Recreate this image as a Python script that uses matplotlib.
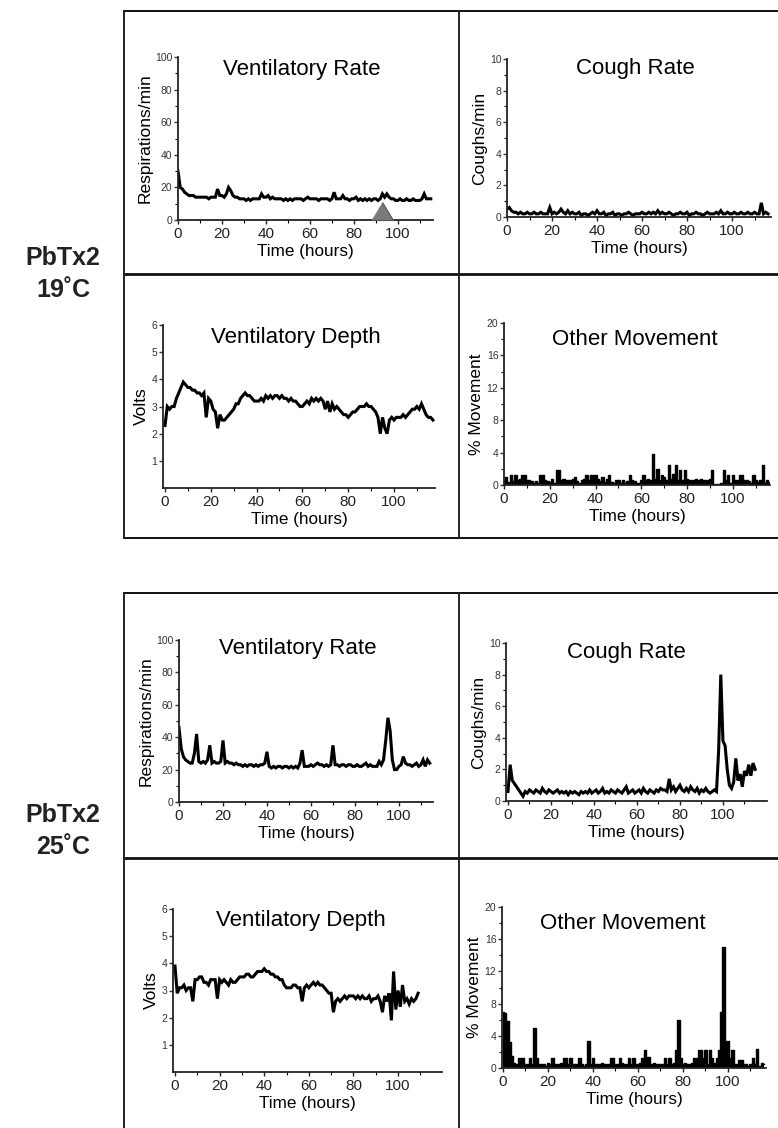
import numpy as np
import matplotlib
matplotlib.use('Agg')
from matplotlib import pyplot as plt
from matplotlib.lines import Line2D
from matplotlib.ticker import MultipleLocator, FixedLocator

plt.rcParams['font.family'] = ['Liberation Sans', 'DejaVu Sans']

W, H = 778, 1128

# ---- data (hourly samples) ----
VENT_RATE_19 = [30, 20, 19, 17, 16, 15, 15, 15, 14, 14,
                14, 14, 14, 14, 13, 14, 14, 14, 19, 15,
                15, 14, 16, 20, 18, 15, 14, 14, 13, 13,
                13, 12, 13, 12, 13, 13, 13, 13, 16, 14,
                14, 15, 13, 14, 13, 13, 13, 13, 12, 13,
                12, 13, 12, 13, 13, 13, 13, 12, 13, 14,
                13, 13, 13, 13, 12, 13, 13, 13, 13, 12,
                13, 17, 13, 13, 13, 15, 13, 13, 12, 13,
                13, 14, 12, 13, 12, 13, 12, 13, 12, 13,
                13, 12, 13, 16, 14, 16, 14, 13, 13, 12,
                12, 13, 12, 12, 13, 12, 12, 13, 12, 12,
                12, 13, 16, 13, 13, 13]
ARROW_HOUR_19 = 93

COUGH_19 = [0.5, 0.6, 0.4, 0.3, 0.3, 0.2, 0.3, 0.2, 0.2, 0.3,
            0.2, 0.2, 0.3, 0.2, 0.2, 0.3, 0.2, 0.2, 0.2, 0.6,
            0.2, 0.3, 0.2, 0.3, 0.5, 0.3, 0.2, 0.4, 0.2, 0.3,
            0.2, 0.2, 0.3, 0.1, 0.2, 0.2, 0.1, 0.2, 0.3, 0.2,
            0.4, 0.2, 0.2, 0.3, 0.1, 0.2, 0.2, 0.3, 0.1, 0.2,
            0.2, 0.1, 0.2, 0.2, 0.3, 0.2, 0.1, 0.2, 0.2, 0.2,
            0.3, 0.2, 0.2, 0.3, 0.2, 0.3, 0.2, 0.4, 0.2, 0.3,
            0.2, 0.2, 0.3, 0.2, 0.1, 0.2, 0.2, 0.3, 0.2, 0.2,
            0.3, 0.1, 0.2, 0.2, 0.3, 0.2, 0.2, 0.1, 0.2, 0.3,
            0.2, 0.2, 0.2, 0.3, 0.2, 0.4, 0.2, 0.2, 0.3, 0.2,
            0.2, 0.3, 0.2, 0.2, 0.3, 0.2, 0.2, 0.3, 0.2, 0.2,
            0.3, 0.2, 0.2, 0.9, 0.2, 0.3, 0.2]

DEPTH_19 = [2.3, 3.0, 2.9, 3.0, 3.0, 3.3, 3.5, 3.7, 3.9, 3.8,
            3.7, 3.7, 3.6, 3.6, 3.5, 3.5, 3.4, 3.5, 2.6, 3.3,
            3.2, 2.9, 2.8, 2.2, 2.7, 2.5, 2.5, 2.6, 2.7, 2.8,
            2.9, 3.1, 3.1, 3.3, 3.4, 3.5, 3.4, 3.4, 3.3, 3.2,
            3.2, 3.2, 3.3, 3.2, 3.4, 3.3, 3.4, 3.3, 3.4, 3.4,
            3.3, 3.4, 3.3, 3.3, 3.2, 3.3, 3.2, 3.2, 3.1, 3.0,
            3.0, 3.1, 3.2, 3.1, 3.3, 3.2, 3.3, 3.2, 3.3, 3.2,
            2.9, 3.2, 2.8, 3.1, 2.9, 3.0, 2.9, 2.8, 2.7, 2.7,
            2.6, 2.7, 2.8, 2.8, 2.9, 3.0, 3.0, 3.0, 3.1, 3.0,
            3.0, 2.9, 2.8, 2.6, 2.0, 2.6, 2.2, 2.0, 2.5, 2.6,
            2.5, 2.6, 2.6, 2.6, 2.7, 2.6, 2.7, 2.8, 2.9, 2.9,
            3.0, 2.9, 3.1, 2.9, 2.7, 2.6, 2.6, 2.5]

OTHER_19 = [0.6, 1.0, 0.4, 1.2, 0.5, 1.2, 0.6, 0.8, 1.2, 1.2,
            0.6, 0.6, 0.5, 0.3, 0.5, 0.2, 1.2, 1.2, 0.6, 0.5,
            0.4, 0.8, 0.3, 1.8, 1.8, 0.6, 0.7, 0.6, 0.6, 0.6,
            0.7, 1.0, 0.5, 0.3, 0.6, 0.8, 1.2, 0.6, 1.2, 1.2,
            1.2, 0.8, 0.5, 1.0, 0.4, 0.8, 1.2, 0.4, 0.2, 0.6,
            0.6, 0.3, 0.6, 0.3, 0.5, 1.2, 0.6, 0.5, 0.2, 0.3,
            0.6, 1.2, 0.6, 0.8, 0.6, 3.8, 0.8, 2.0, 0.6, 1.2,
            1.0, 0.6, 2.5, 0.8, 1.4, 2.5, 0.6, 1.8, 0.6, 1.8,
            0.7, 0.6, 0.6, 0.6, 0.7, 0.6, 0.7, 0.6, 0.6, 0.6,
            0.7, 1.9, 0.1, 0.1, 0.1, 0.2, 1.8, 0.6, 1.2, 0.2,
            1.2, 0.6, 0.6, 1.2, 1.2, 0.6, 0.6, 0.5, 0.3, 1.2,
            0.6, 0.4, 0.6, 2.5, 0.2, 0.6, 0.4]

VENT_RATE_25 = [46, 33, 28, 26, 25, 24, 24, 30, 42, 25,
                24, 25, 24, 26, 35, 24, 25, 24, 24, 25,
                38, 24, 25, 24, 24, 23, 24, 23, 23, 22,
                23, 22, 23, 23, 22, 23, 22, 23, 23, 24,
                31, 22, 21, 22, 21, 22, 22, 21, 22, 22,
                21, 22, 21, 22, 21, 24, 32, 22, 22, 22,
                23, 22, 23, 24, 23, 23, 22, 23, 22, 23,
                35, 23, 23, 22, 23, 23, 22, 23, 23, 22,
                22, 23, 22, 22, 23, 24, 22, 23, 22, 22,
                22, 25, 23, 26, 38, 52, 44, 26, 20, 20,
                22, 23, 28, 24, 23, 23, 22, 23, 24, 22,
                23, 26, 22, 26, 24]

COUGH_25 = [0.6, 2.3, 1.3, 1.1, 0.9, 0.7, 0.5, 0.3, 0.6, 0.5,
            0.7, 0.6, 0.5, 0.7, 0.6, 0.5, 0.8, 0.6, 0.5, 0.7,
            0.6, 0.5, 0.6, 0.7, 0.5, 0.6, 0.5, 0.6, 0.4, 0.6,
            0.5, 0.6, 0.5, 0.4, 0.6, 0.5, 0.6, 0.5, 0.7, 0.5,
            0.6, 0.7, 0.5, 0.6, 0.8, 0.5, 0.6, 0.5, 0.7, 0.6,
            0.5, 0.7, 0.6, 0.5, 0.7, 0.9, 0.5, 0.6, 0.7, 0.5,
            0.6, 0.7, 0.5, 0.8, 0.6, 0.5, 0.7, 0.6, 0.5, 0.7,
            0.6, 0.8, 0.7, 0.7, 0.6, 1.4, 0.7, 0.9, 0.6, 0.8,
            1.0, 0.7, 0.6, 0.8, 0.6, 0.9, 0.7, 0.6, 0.8, 0.5,
            0.7, 0.6, 0.8, 0.6, 0.5, 0.6, 0.7, 0.6, 3.2, 8.0,
            3.8, 3.5, 2.0, 1.0, 0.8, 1.2, 2.7, 1.3, 1.7, 0.9,
            1.9, 1.6, 2.3, 1.6, 2.4, 2.0]

DEPTH_25 = [3.9, 2.9, 3.1, 3.1, 3.2, 3.0, 3.1, 3.1, 2.6, 3.4,
            3.4, 3.5, 3.5, 3.3, 3.3, 3.2, 3.4, 3.4, 3.4, 2.7,
            3.4, 3.3, 3.4, 3.3, 3.2, 3.4, 3.3, 3.3, 3.4, 3.5,
            3.5, 3.5, 3.6, 3.6, 3.5, 3.5, 3.6, 3.7, 3.7, 3.7,
            3.8, 3.7, 3.7, 3.6, 3.6, 3.5, 3.5, 3.4, 3.4, 3.2,
            3.1, 3.1, 3.1, 3.2, 3.2, 3.1, 3.1, 2.6, 3.1, 3.2,
            3.1, 3.2, 3.3, 3.2, 3.3, 3.2, 3.2, 3.1, 3.0, 2.9,
            2.9, 2.2, 2.6, 2.7, 2.6, 2.7, 2.8, 2.7, 2.8, 2.8,
            2.8, 2.7, 2.8, 2.7, 2.8, 2.7, 2.7, 2.8, 2.6, 2.7,
            2.7, 2.8, 2.6, 2.2, 2.8, 2.6, 2.9, 1.9, 3.7, 2.3,
            3.0, 2.4, 3.2, 2.6, 2.7, 2.5, 2.7, 2.6, 2.7, 2.9]

OTHER_25 = [7.0, 6.8, 5.8, 3.2, 1.5, 0.6, 0.5, 1.3, 1.3, 1.3,
            0.5, 0.5, 1.3, 0.5, 5.0, 1.3, 0.5, 0.5, 0.5, 0.3,
            0.6, 0.5, 1.3, 0.5, 0.5, 0.5, 0.6, 1.3, 1.3, 0.5,
            1.3, 0.5, 0.5, 0.5, 1.3, 0.5, 0.3, 0.5, 3.3, 0.5,
            1.3, 0.5, 0.5, 0.5, 0.6, 0.5, 0.5, 0.5, 1.3, 1.3,
            0.5, 0.5, 1.3, 0.6, 0.5, 0.5, 1.3, 0.5, 1.3, 0.5,
            0.5, 0.6, 1.3, 2.2, 1.4, 1.4, 0.5, 0.6, 0.5, 0.5,
            0.5, 0.5, 1.3, 0.5, 1.3, 0.5, 0.6, 2.2, 6.0, 1.3,
            0.5, 0.6, 0.5, 0.5, 0.6, 1.3, 1.3, 2.2, 2.2, 1.3,
            2.2, 0.5, 2.2, 1.3, 0.6, 1.3, 2.2, 7.0, 15.0, 3.3,
            3.3, 1.3, 2.2, 0.5, 0.5, 1.0, 1.0, 0.5, 0.5, 0.3,
            0.5, 1.3, 0.5, 2.4, 0.3, 0.6, 0.5]

TITLES = ['Ventilatory Rate', 'Cough Rate', 'Ventilatory Depth', 'Other Movement']
YLABELS = ['Respirations/min', 'Coughs/min', 'Volts', '% Movement']
GROUP_LABELS = ['PbTx2\n19˚C', 'PbTx2\n25˚C']
HOUR_TICKS = [0, 20, 40, 60, 80, 100]


fig = plt.figure(figsize=(W / 100, H / 100), dpi=100)


def fx(px):
  return px / W


def fy(py):
  return 1 - py / H


def makeAxes(left, right, top, bottom, xlim):
  ax = fig.add_axes([fx(left), fy(bottom), fx(right - left), (bottom - top) / H])
  ax.set_xlim(*xlim)
  ax.spines['top'].set_visible(False)
  ax.spines['right'].set_visible(False)
  for s in ('left', 'bottom'):
    ax.spines[s].set_linewidth(1.3)
    ax.spines[s].set_color('#222222')
  ax.patch.set_alpha(0)
  ax.xaxis.set_major_locator(FixedLocator(HOUR_TICKS))
  ax.xaxis.set_minor_locator(FixedLocator([10, 30, 50, 70, 90, 110]))
  ax.tick_params(axis='x', which='major', labelsize=11, length=3, width=1, pad=2, colors='#222222')
  ax.tick_params(axis='x', which='minor', length=2, width=0.8)
  ax.tick_params(axis='y', which='major', labelsize=7.5, length=3, width=1, pad=1, colors='#333333')
  ax.tick_params(axis='y', which='minor', length=2, width=0.8)
  ax.set_xlabel('Time (hours)', fontsize=12.3, labelpad=2)
  return ax


def decorate(ax, kind, tx, ty):
  ax.set_ylabel(YLABELS[kind], fontsize=12.5, labelpad=2)
  ax.text(tx, ty, TITLES[kind], transform=ax.transAxes, ha='center', va='center', fontsize=16)
  if kind == 0:
    ax.set_ylim(0, 100)
    ax.yaxis.set_major_locator(MultipleLocator(20))
    ax.yaxis.set_minor_locator(MultipleLocator(10))
  elif kind == 1:
    ax.set_ylim(0, 10)
    ax.yaxis.set_major_locator(MultipleLocator(2))
    ax.yaxis.set_minor_locator(MultipleLocator(1))
  elif kind == 2:
    ax.set_ylim(0, 6)
    ax.set_yticks([1, 2, 3, 4, 5, 6])
  else:
    ax.set_ylim(0, 20)
    ax.yaxis.set_major_locator(MultipleLocator(4))
    ax.yaxis.set_minor_locator(MultipleLocator(2))


def plotTrace(ax, vals):
  t = np.arange(len(vals))
  ax.plot(t, vals, color='black', lw=2.2, solid_joinstyle='miter')


def plotMovement(ax, vals):
  t = np.arange(len(vals))
  ax.fill_between(t, 0, vals, step='mid', color='black', lw=0)
  ax.step(t, vals, where='mid', color='black', lw=1.0)


# ---- 19 C block ----
ax = makeAxes(178, 433, 57, 220, (0, 116))
plotTrace(ax, VENT_RATE_19)
decorate(ax, 0, 0.485, 0.926)
tri = [(-1, 0), (1, 0), (0, 1.64)]
ax.plot([ARROW_HOUR_19], [0], marker=tri, ms=26, color='#7a7a7a', mec='#555555', mew=0.8,
        clip_on=False, zorder=5)

ax = makeAxes(507, 771, 59, 217, (0, 117.3))
plotTrace(ax, COUGH_19)
decorate(ax, 1, 0.485, 0.94)

ax = makeAxes(163, 435, 325, 488, (-0.87, 117.9))
plotTrace(ax, DEPTH_19)
decorate(ax, 2, 0.49, 0.923)

ax = makeAxes(504, 770, 323, 485, (0, 116.2))
plotMovement(ax, OTHER_19)
decorate(ax, 3, 0.49, 0.90)

# ---- 25 C block ----
ax = makeAxes(179, 433, 640, 802, (0, 115.5))
plotTrace(ax, VENT_RATE_25)
decorate(ax, 0, 0.467, 0.95)

ax = makeAxes(506, 767, 643, 801, (-0.93, 120.5))
plotTrace(ax, COUGH_25)
decorate(ax, 1, 0.46, 0.937)

ax = makeAxes(173, 442, 909, 1072, (-0.9, 119.7))
plotTrace(ax, DEPTH_25)
decorate(ax, 2, 0.474, 0.93)

ax = makeAxes(502, 766, 907, 1068, (-0.44, 116.9))
plotMovement(ax, OTHER_25)
decorate(ax, 3, 0.456, 0.90)


# ---- panel frames ----
def hline(py, x0, x1, lw=1.6):
  fig.add_artist(Line2D([fx(x0), fx(x1)], [fy(py), fy(py)], color='#111111', lw=lw,
                        transform=fig.transFigure))


def vline(px, y0, y1, lw=1.4):
  fig.add_artist(Line2D([fx(px), fx(px)], [fy(y0), fy(y1)], color='#222222', lw=lw,
                        transform=fig.transFigure))


for top, mid, bottom in [(11, 274, 538), (593, 858, 1140)]:
  hline(top, 124, 790, lw=1.4)
  hline(mid, 124, 790, lw=2.0)
  hline(bottom, 124, 790, lw=1.4)
  vline(124, top, bottom)
  vline(459, top, bottom)

# ---- group labels ----
for label, py in zip(GROUP_LABELS, [274, 831]):
  fig.text(fx(63), fy(py), label, ha='center', va='center', fontsize=18,
           fontweight='bold', linespacing=1.45, color='#222222')

fig.savefig('out.png', dpi=100)
